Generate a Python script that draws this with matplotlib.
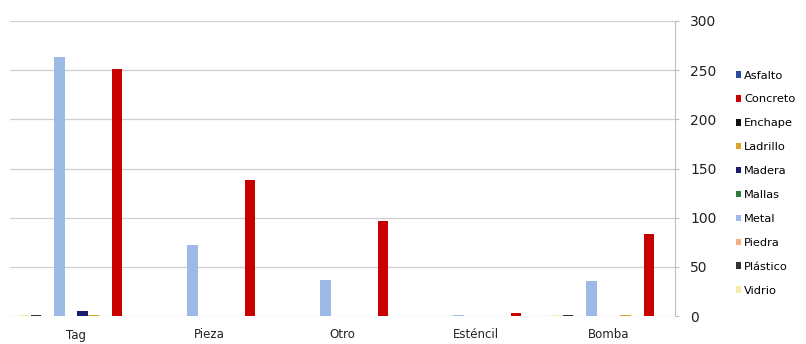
import matplotlib
matplotlib.use("Agg")
import matplotlib.pyplot as plt
import numpy as np
from matplotlib.patches import Patch

categories = ["Tag", "Pieza", "Otro", "Esténcil", "Bomba"]
series_names = ["Asfalto", "Concreto", "Enchape", "Ladrillo", "Madera",
                "Mallas", "Metal", "Piedra", "Plástico", "Vidrio"]
asfalto  = [0, 0, 0, 0, 0]
concreto = [251, 138, 97, 3, 83]
enchape  = [0, 0, 0, 0, 0]
ladrillo = [1, 0, 0, 0, 1]
madera   = [5, 0, 0, 0, 0]
mallas   = [0, 0, 0, 0, 0]
metal    = [263, 72, 37, 1, 36]
piedra   = [0, 0, 0, 0, 0]
plastico = [1, 0, 0, 0, 1]
vidrio   = [1, 0, 0, 0, 1]
values = [asfalto, concreto, enchape, ladrillo, madera,
          mallas, metal, piedra, plastico, vidrio]
colors = ["#2B4BA3", "#C80000", "#111111", "#D9A52B", "#1C1C6E",
          "#2E7D3A", "#9DBAE6", "#F2B080", "#333333", "#F6EBA8"]
yticks = [0, 50, 100, 150, 200, 250, 300]

fig = plt.figure(figsize=(8.06, 3.44), dpi=100)
ax = fig.add_axes([10/806, 1-316/344, (675-10)/806, (316-21)/344])

n = len(series_names)
x = np.arange(len(categories))
slot = 0.87 / n
# bars drawn in reverse legend order (left to right)
for k, (name, vals, col) in enumerate(zip(series_names, values, colors)):
    pos = n - 1 - k
    offs = (pos - (n - 1) / 2) * slot
    ax.bar(x + offs, vals, width=slot * 0.95, color=col, zorder=3)

ax.set_xlim(-0.5, len(categories) - 0.5)
ax.set_ylim(0, 300)
ax.set_yticks(yticks)
ax.yaxis.tick_right()
ax.tick_params(axis="y", length=3, color="#bbbbbb", labelsize=10, pad=8,
               labelcolor="#222222")
ax.set_xticks(x)
ax.set_xticklabels(categories, fontsize=8.5, color="#222222")
ax.tick_params(axis="x", length=0, pad=9)
ax.grid(axis="y", color="#cfcfcf", linewidth=0.9, zorder=0)
for s in ["top", "left", "bottom"]:
    ax.spines[s].set_visible(False)
ax.spines["right"].set_color("#c0c0c0")

handles = [Patch(facecolor=c, edgecolor="none") for c in colors]
fig.legend(handles, series_names, loc="upper left",
           bbox_to_anchor=(731/806, 1-66/344), frameon=False,
           fontsize=8.2, handlelength=0.5, handleheight=0.5,
           handletextpad=0.25, labelspacing=1.22, borderaxespad=0)

fig.savefig("out.png", dpi=100)
